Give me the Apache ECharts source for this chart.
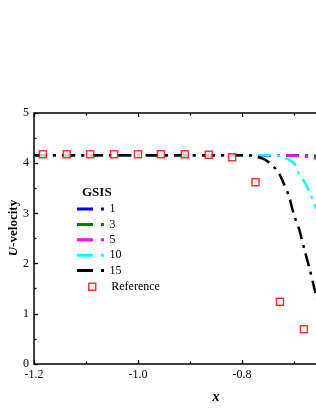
<!DOCTYPE html>
<html><head><meta charset="utf-8">
<script src="https://cdn.jsdelivr.net/npm/echarts@6/dist/echarts.min.js"></script>
<style>html,body{margin:0;padding:0;background:#fff;overflow:hidden;width:316px;height:409px}#c{width:420px;height:409px}</style>
</head><body><div id="c"></div>
<script>
// shared x positions for the GSIS curves
var xs = [-1.2, -1.1, -1.0, -0.9, -0.8, -0.78, -0.76, -0.75, -0.74, -0.73, -0.72, -0.71, -0.70, -0.69, -0.68, -0.67, -0.66, -0.65, -0.64, -0.62, -0.60];
var gsis1  = [4.16, 4.16, 4.16, 4.16, 4.16, 4.16, 4.16, 4.16, 4.16, 4.16, 4.16, 4.16, 4.16, 4.16, 4.16, 4.15, 4.15, 4.14, 4.13, 4.10, 4.05];
var gsis3  = [4.16, 4.16, 4.16, 4.16, 4.16, 4.16, 4.16, 4.16, 4.16, 4.16, 4.16, 4.16, 4.16, 4.15, 4.15, 4.14, 4.13, 4.12, 4.10, 4.05, 3.98];
var gsis5  = [4.16, 4.16, 4.16, 4.16, 4.16, 4.16, 4.16, 4.16, 4.16, 4.16, 4.16, 4.16, 4.15, 4.15, 4.14, 4.12, 4.10, 4.07, 4.02, 3.90, 3.70];
var gsis10 = [4.16, 4.16, 4.16, 4.16, 4.16, 4.16, 4.16, 4.16, 4.16, 4.15, 4.12, 4.07, 4.00, 3.78, 3.63, 3.42, 3.17, 2.95, 2.65, 1.90, 1.10];
var gsis15 = [4.16, 4.16, 4.16, 4.16, 4.16, 4.15, 4.09, 4.03, 3.94, 3.82, 3.60, 3.35, 2.97, 2.68, 2.28, 1.90, 1.47, 1.05, 0.65, 0.10, 0.00];
var refX = [-1.183, -1.137, -1.092, -1.046, -1.000, -0.956, -0.910, -0.864, -0.819, -0.774, -0.727, -0.681];
var refY = [4.18, 4.18, 4.18, 4.18, 4.18, 4.18, 4.18, 4.17, 4.12, 3.62, 1.24, 0.69];
var seriesNames = ['1', '3', '5', '10', '15'];
var seriesColors = ['#0000ff', '#008000', '#ff00ff', '#00ffff', '#000000'];

var FONT = '"Liberation Serif", "DejaVu Serif", serif';
function pairs(x, y) { return x.map(function (v, i) { return [v, y[i]]; }); }
var allY = [gsis1, gsis3, gsis5, gsis10, gsis15];
var dashIcon = 'path://M0,0H16V3H0Z M24,0H27V3H24Z';

var series = seriesNames.map(function (n, i) {
  return {
    name: n, type: 'line', data: pairs(xs, allY[i]), smooth: 0.3,
    showSymbol: false, symbol: 'none', z: 2 + i,
    lineStyle: { color: seriesColors[i], width: 2.5, type: [13, 6, 3, 6] },
    itemStyle: { color: seriesColors[i] }
  };
});
series.push({
  name: 'Reference', type: 'scatter', data: pairs(refX, refY),
  symbol: 'rect', symbolSize: 7, z: 10,
  itemStyle: { color: '#ffffff', borderColor: '#ff0000', borderWidth: 1.5 }
});

var chart = echarts.init(document.getElementById('c'), null, { renderer: 'canvas' });
chart.setOption({
  animation: false,
  backgroundColor: '#ffffff',
  title: { text: 'GSIS', left: 77, top: 181,
    textStyle: { fontFamily: FONT, fontWeight: 'bold', fontSize: 13, color: '#000' } },
  legend: [{
    data: seriesNames.map(function (n) { return { name: n, icon: dashIcon }; }),
    orient: 'vertical', left: 72, top: 197, itemWidth: 28, itemHeight: 3, itemGap: 1.4,
    textStyle: { fontFamily: FONT, fontSize: 12, color: '#000', lineHeight: 14 }
  }, {
    data: [{ name: 'Reference', icon: 'path://M0,0H10V10H0Z',
      itemStyle: { color: '#ffffff', borderColor: '#ff0000', borderWidth: 1.5 } }],
    orient: 'vertical', left: 83, top: 274.7, itemWidth: 28, itemHeight: 7,
    textStyle: { fontFamily: FONT, fontSize: 12, color: '#000', lineHeight: 14 }
  }],
  grid: { left: 34, top: 113, right: 22, bottom: 45, containLabel: false },
  xAxis: [{
    type: 'value', min: -1.2, max: -0.5, interval: 0.2,
    name: 'x', nameLocation: 'middle', nameGap: 26,
    nameTextStyle: { fontFamily: FONT, fontWeight: 'bold', fontStyle: 'italic', fontSize: 14, color: '#000' },
    axisLine: { lineStyle: { color: '#000', width: 1.5 } },
    axisTick: { inside: true, length: 4, lineStyle: { color: '#000', width: 1.3 } },
    minorTick: { show: true, splitNumber: 2, length: 2.5, lineStyle: { color: '#000', width: 1.3 } },
    splitLine: { show: false },
    axisLabel: { fontFamily: FONT, fontSize: 12, color: '#000', margin: 5,
      formatter: function (v) { return v.toFixed(1); } }
  }, {
    type: 'value', min: -1.2, max: -0.5, interval: 0.2, position: 'top',
    axisLine: { lineStyle: { color: '#000', width: 1.5 } },
    axisTick: { inside: true, length: 4, lineStyle: { color: '#000', width: 1.3 } },
    minorTick: { show: true, splitNumber: 2, length: 2.5, lineStyle: { color: '#000', width: 1.3 } },
    splitLine: { show: false },
    axisLabel: { show: false }
  }],
  yAxis: {
    type: 'value', min: 0, max: 5, interval: 1,
    axisLine: { show: true, lineStyle: { color: '#000', width: 1.5 } },
    axisTick: { show: true, inside: true, length: 4, lineStyle: { color: '#000', width: 1.3 } },
    minorTick: { show: true, splitNumber: 2, length: 2.5, lineStyle: { color: '#000', width: 1.3 } },
    splitLine: { show: false },
    axisLabel: { fontFamily: FONT, fontSize: 12, color: '#000', margin: 5 }
  },
  graphic: [{
    type: 'text', x: 13.5, y: 228, rotation: Math.PI / 2,
    style: {
      text: '{i|U}-velocity', align: 'center', verticalAlign: 'middle',
      font: 'bold 13px "Liberation Serif", serif', fill: '#000',
      rich: { i: { fontStyle: 'italic', fontWeight: 'bold', fontSize: 13, fontFamily: FONT } }
    }
  }],
  series: series
});
</script></body></html>
